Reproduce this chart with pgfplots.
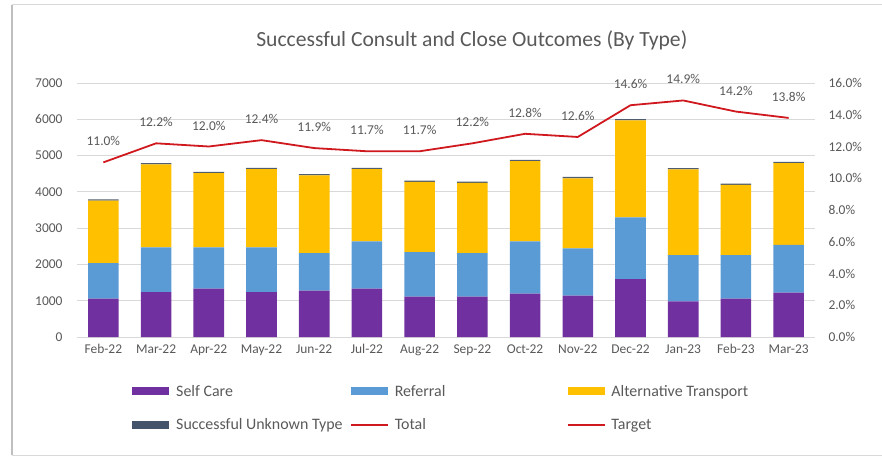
\documentclass[border=0pt]{standalone}
\usepackage{fontspec}
\setmainfont{Carlito}
\usepackage{pgfplots}
\usepackage{pgfplotstable}
\pgfplotsset{compat=1.18}
\definecolor{selfc}{HTML}{7030A0}
\definecolor{refc}{HTML}{5B9BD5}
\definecolor{altc}{HTML}{FFC000}
\definecolor{unkc}{HTML}{44546A}
\definecolor{linec}{HTML}{D0191E}
\definecolor{txt}{HTML}{595959}
\definecolor{gridc}{HTML}{D9D9D9}
\newcommand\tickfont{\fontsize{13.5}{16}\selectfont}
\newcommand\legfont{\fontsize{16}{19}\selectfont}
\newcommand\titfont{\fontsize{21.7}{26}\selectfont}

\pgfplotstableread{
x self ref alt unk tot
0  1055  980 1725 35 11.0
1  1240 1230 2285 35 12.2
2  1330 1140 2045 35 12.0
3  1240 1230 2155 35 12.4
4  1275 1035 2145 35 11.9
5  1330 1305 1990 35 11.7
6  1110 1230 1935 35 11.7
7  1110 1200 1935 35 12.2
8  1195 1440 2210 35 12.8
9  1140 1300 1935 35 12.6
10 1595 1705 2670 35 14.6
11  985 1270 2365 35 14.9
12 1055 1200 1935 35 14.2
13 1220 1320 2250 35 13.8
}\data

\begin{document}
\begin{tikzpicture}
\begin{axis}[name=ax,
  scale only axis, width=738bp, height=254bp,
  xmin=-0.5, xmax=13.5, ymin=0, ymax=7000,
  ybar stacked, bar width=0.58,
  axis line style={draw=none}, major tick length=0,
  ymajorgrids, grid style={gridc, line width=0.8bp},
  ytick={0,1000,...,7000},
  xtick={0,...,13},
  xticklabels={Feb-22,Mar-22,Apr-22,May-22,Jun-22,Jul-22,Aug-22,Sep-22,Oct-22,Nov-22,Dec-22,Jan-23,Feb-23,Mar-23},
  /pgf/number format/assume math mode=true,
  /pgf/number format/1000 sep={},
  ticklabel style={font=\tickfont, text=txt},
  yticklabel style={xshift=-11bp},
  xticklabel style={yshift=-4bp},
  clip=false,
  legend columns=3,
  legend cell align=left,
  legend style={draw=none, fill=none, at={(0.0705,-0.181)}, anchor=north west,
    column sep=0pt, row sep=21bp, font=\legfont, text=txt,
    nodes={inner sep=0pt}},
]
\addplot[fill=selfc, draw=none, legend image code/.code={\fill[selfc] (0bp,-4bp) rectangle (37bp,4bp);}] table[x=x,y=self]{\data};
\addlegendentry{\makebox[181bp][l]{\hspace{7bp}Self Care}}
\addplot[fill=refc, draw=none, legend image code/.code={\fill[refc] (0bp,-4bp) rectangle (37bp,4bp);}] table[x=x,y=ref]{\data};
\addlegendentry{\makebox[178bp][l]{\hspace{6bp}Referral}}
\addplot[fill=altc, draw=none, legend image code/.code={\fill[altc] (0bp,-4bp) rectangle (37bp,4bp);}] table[x=x,y=alt]{\data};
\addlegendentry{\hspace{6bp}Alternative Transport}
\addplot[fill=unkc!80!gray, draw=none, legend image code/.code={\fill[unkc] (0bp,-4bp) rectangle (37bp,4bp);}] table[x=x,y=unk]{\data};
\addlegendentry{\makebox[181bp][l]{\hspace{7bp}Successful Unknown Type}}
\addlegendimage{legend image code/.code={\draw[linec, line width=1.6bp] (0bp,0bp) -- (37bp,0bp);}}
\addlegendentry{\makebox[178bp][l]{\hspace{6bp}Total}}
\addlegendimage{legend image code/.code={\draw[linec, line width=1.6bp] (0bp,0bp) -- (37bp,0bp);}}
\addlegendentry{\hspace{6bp}Target}
\node[font=\titfont, text=txt] at (axis description cs:0.535,1.169) {Successful Consult and Close Outcomes (By Type)};
\end{axis}
\begin{axis}[
  scale only axis, width=738bp, height=254bp,
  xmin=-0.5, xmax=13.5, ymin=0, ymax=16,
  hide x axis, axis y line*=right, y axis line style={draw=none},
  major tick length=0,
  ytick={0,2,...,16},
  /pgf/number format/assume math mode=true,
  yticklabel={\pgfmathprintnumber[fixed,fixed zerofill,precision=1]{\tick}\%},
  yticklabel style={font=\tickfont, text=txt, xshift=10bp},
  clip=false,
]
\addplot[linec, line width=1.8bp, mark=none,
  nodes near coords={\pgfmathprintnumber[fixed,fixed zerofill,precision=1]{\pgfplotspointmeta}\%},
  every node near coord/.append style={font=\tickfont, text=txt, anchor=center, yshift=21bp}]
  table[x=x,y=tot]{\data};
\end{axis}
\begin{scope}[shift={(ax.south west)}]
\draw[black!25, line width=2.5bp] (-65bp,-118bp) -- (-65bp,332bp);
\draw[black!15, line width=1bp] (-65bp,332bp) -- (805bp,332bp);
\draw[black!15, line width=1bp] (-65bp,-118bp) -- (805bp,-118bp);
\pgfresetboundingbox
\useasboundingbox (-77bp,-119bp) rectangle (805bp,337bp);
\end{scope}
\end{tikzpicture}
\end{document}
